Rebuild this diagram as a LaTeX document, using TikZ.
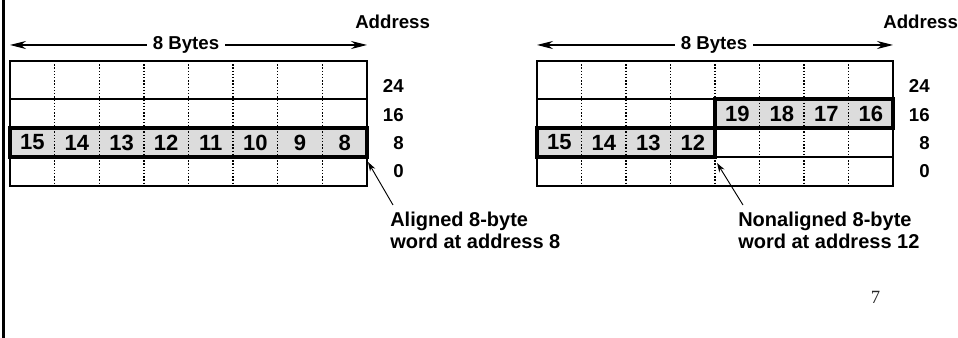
\documentclass[tikz,border=0pt]{standalone}
\usepackage{fontspec}
\setmainfont{Liberation Sans}
\newfontfamily\pagenumfont{Liberation Serif}
\usetikzlibrary{arrows.meta}
\definecolor{wordfill}{HTML}{DCDCDC}
\begin{document}
\begin{tikzpicture}[x=0.75pt,y=-0.75pt,
  gridline/.style={line width=1.2pt},
  bytesep/.style={line width=1pt, dash pattern=on 1pt off 1.4pt},
  wordbox/.style={line width=2.5pt, line join=miter},
  cellnum/.style={font=\fontsize{16.5}{16.5}\selectfont\bfseries, inner sep=0pt},
  addrnum/.style={font=\fontsize{14}{14}\selectfont\bfseries, anchor=base east, inner sep=0pt},
  headtext/.style={font=\fontsize{14}{16}\selectfont\bfseries, inner sep=0pt},
  spanarrow/.style={line width=0.8pt, {Stealth[length=12pt,width=6pt]}-{Stealth[length=12pt,width=6pt]}},
  callout/.style={font=\fontsize{15}{16.5}\selectfont\bfseries, align=left, anchor=north west, inner sep=0pt},
  pointer/.style={line width=0.7pt, -{Stealth[length=7pt,width=4.5pt]}}
]
\useasboundingbox (0,0) rectangle (958,338);

% slide frame edge
\draw[line width=2.5pt] (3.3,0) -- (3.3,338);

% ---------------- aligned word (left) ----------------
% shaded word at address 8
\fill[wordfill] (10,128) rectangle (367,157);
% byte separators
\foreach \i in {1,...,7}
  \draw[bytesep] (10+\i*44.625,61) -- (10+\i*44.625,186);
% rows
\draw[gridline] (10,61) rectangle (367,186);
\foreach \r in {99,128,157}
  \draw[gridline] (10,\r) -- (367,\r);
% word outline
\draw[wordbox] (10,128) rectangle (367,157);
% byte numbers
\foreach \n [count=\c from 0] in {15,14,13,12,11,10,9,8}
  \node[cellnum] (La\n) at (10+22.3+\c*44.625,142.5) {\n};

% width arrow
\coordinate (LspanL) at (10,45);
\coordinate (LspanR) at (367,45);
\draw[spanarrow] (LspanL) -- (LspanR);
\node[headtext, fill=white, inner xsep=4pt, inner ysep=1pt, anchor=base] (Lbytes) at (186,49.5) {8 Bytes};

% addresses
\node[headtext, anchor=base west] (Laddr) at (355,29) {Address};
\node[addrnum] (L24) at (404,93) {24};
\node[addrnum] (L16) at (404,122) {16};
\node[addrnum] (L8)  at (404,150) {8};
\node[addrnum] (L0)  at (404,178) {0};

% callout
\node[callout] (Lnote) at (390,212) {Aligned 8-byte\\word at address 8};
\coordinate (LtipEnd) at (368,162);
\coordinate (LtailEnd) at (393,205);
\draw[pointer] (LtailEnd) -- (LtipEnd);

% ---------------- nonaligned word (right) ----------------
\fill[wordfill] (715,99) rectangle (893,128);
\fill[wordfill] (537,128) rectangle (715,157);
\foreach \i in {1,...,7}
  \draw[bytesep] (537+\i*44.5,61) -- (537+\i*44.5,186);
\draw[gridline] (537,61) rectangle (893,186);
\foreach \r in {99,128,157}
  \draw[gridline] (537,\r) -- (893,\r);
\draw[wordbox] (715,99) rectangle (893,128);
\draw[wordbox] (537,128) rectangle (715,157);
\foreach \n [count=\c from 4] in {19,18,17,16}
  \node[cellnum] (Rb\n) at (537+22.25+\c*44.5,113.5) {\n};
\foreach \n [count=\c from 0] in {15,14,13,12}
  \node[cellnum] (Ra\n) at (537+22.25+\c*44.5,142.5) {\n};

\coordinate (RspanL) at (537,45);
\coordinate (RspanR) at (893,45);
\draw[spanarrow] (RspanL) -- (RspanR);
\node[headtext, fill=white, inner xsep=4pt, inner ysep=1pt, anchor=base] (Rbytes) at (714,49.5) {8 Bytes};

\node[headtext, anchor=base west] (Raddr) at (883,29) {Address};
\node[addrnum] (R24) at (930,93) {24};
\node[addrnum] (R16) at (930,122) {16};
\node[addrnum] (R8)  at (930,150) {8};
\node[addrnum] (R0)  at (930,178) {0};

\node[callout] (Rnote) at (738,212) {Nonaligned 8-byte\\word at address 12};
\coordinate (RtipEnd) at (717,163);
\coordinate (RtailEnd) at (743,205);
\draw[pointer] (RtailEnd) -- (RtipEnd);

% page number
\node[font=\pagenumfont\fontsize{14}{14}\selectfont, text=black!85, anchor=base, inner sep=0pt] (pagenum) at (875.5,304) {7};
\end{tikzpicture}
\end{document}
